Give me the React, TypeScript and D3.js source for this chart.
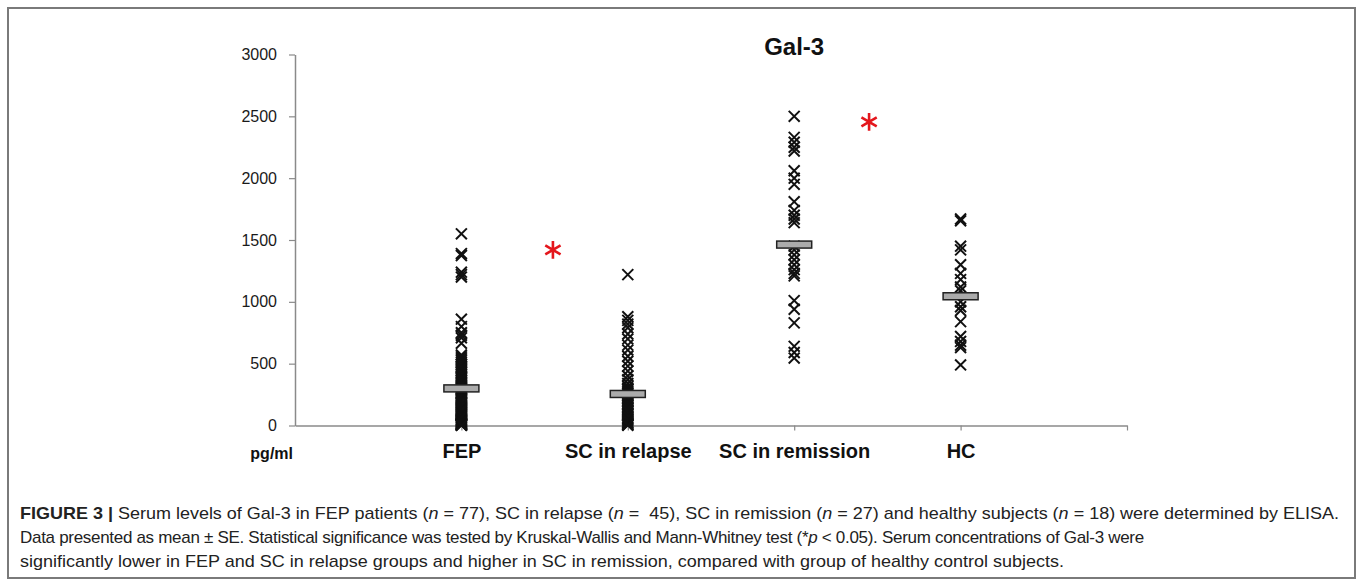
import React, { useEffect, useRef } from "react";
import * as d3 from "d3";

// groups on the x axis
const categories = ["FEP", "SC in relapse", "SC in remission", "HC"];

// individual values (pg/ml)
const fepValues = [
  1550, 1390, 1375, 1240, 1220, 1200, 860, 800, 750, 730, 710, 665,
  570, 555, 540, 525, 510, 495, 480, 470, 455, 440,
  430, 415, 400, 390, 380, 365, 350, 340, 330, 320,
  310, 300, 290, 280, 270, 262, 255, 245, 235, 225,
  218, 210, 200, 190, 182, 175, 165, 158, 150, 140,
  132, 125, 118, 110, 102, 95, 88, 80, 72, 65,
  58, 50, 45, 40, 35, 30, 25, 20, 16, 12,
  10, 8, 5, 3, 1,
];
const relapseValues = [
  1220, 880, 850, 820, 790, 740, 700, 650, 610, 560, 520, 480, 440, 400, 370, 340,
  315, 300, 290, 278, 265, 250, 240, 228, 215, 200,
  190, 178, 165, 150, 140, 128, 115, 100, 90, 78,
  65, 55, 45, 35, 25, 18, 10, 5, 2,
];
const remissionValues = [
  2500, 2330, 2290, 2250, 2220, 2060, 2000, 1950, 1810, 1740, 1700, 1670, 1640,
  1450, 1420, 1380, 1340, 1300, 1260, 1230, 1210, 1010, 940, 830, 640, 590, 545,
];
const hcValues = [
  1670, 1655, 1450, 1420, 1300, 1230, 1180, 1120, 1090, 1000, 960, 930, 840,
  720, 680, 650, 630, 490,
];
const groupMeans = [300, 255, 1463, 1045];

const yTicks = [0, 500, 1000, 1500, 2000, 2500, 3000];

// significance stars: x in category units, y in pg/ml
const starPos = [1.55, 3.45];
const starValues = [1420, 2455];

const captionLines = [
  [
    { t: "FIGURE 3 | ", b: true },
    { t: "Serum levels of Gal-3 in FEP patients (" },
    { t: "n", i: true },
    { t: " = 77), SC in relapse (" },
    { t: "n", i: true },
    { t: " =  45), SC in remission (" },
    { t: "n", i: true },
    { t: " = 27) and healthy subjects (" },
    { t: "n", i: true },
    { t: " = 18) were determined by ELISA." },
  ],
  [
    { t: "Data presented as mean ± SE. Statistical significance was tested by Kruskal-Wallis and Mann-Whitney test (*" },
    { t: "p", i: true },
    { t: " < 0.05). Serum concentrations of Gal-3 were" },
  ],
  [
    { t: "significantly lower in FEP and SC in relapse groups and higher in SC in remission, compared with group of healthy control subjects." },
  ],
];
// line widths as measured on the figure; null = natural width
const captionWidths = [1319, null, 1044];
const captionSpacing = [0, -0.3, 0];

const FONT = "'Liberation Sans', Arial, Helvetica, sans-serif";

const App = () => {
  const svgRef = useRef(null);

  useEffect(() => {
    const w = 1357;
    const h = 581;
    const svg = d3.select(svgRef.current);
    svg.selectAll("*").remove();
    svg.attr("width", w).attr("height", h).style("background", "#ffffff");

    // frame around the figure
    svg
      .append("rect")
      .attr("x", 8)
      .attr("y", 8)
      .attr("width", 1347)
      .attr("height", 570)
      .attr("fill", "none")
      .attr("stroke", "#7a7a7a")
      .attr("stroke-width", 2);

    const xScale = d3.scaleLinear().domain([0, 5]).range([295, 1127]);
    const yScale = d3.scaleLinear().domain([0, 3000]).range([425.5, 54.5]);

    svg
      .append("text")
      .attr("x", xScale(3))
      .attr("y", 55)
      .attr("text-anchor", "middle")
      .style("font-family", FONT)
      .style("font-weight", "bold")
      .style("font-size", "24px")
      .style("fill", "#111")
      .text("Gal-3");

    // y axis
    const yAxis = svg
      .append("g")
      .attr("transform", `translate(${xScale(0)},0)`)
      .call(
        d3
          .axisLeft(yScale)
          .tickValues(yTicks)
          .tickSize(6)
          .tickSizeOuter(0)
          .tickPadding(12)
          .tickFormat(d3.format("d"))
      );
    yAxis.select(".domain").attr("stroke", "#8a8a8a").attr("stroke-width", 1.5);
    yAxis.selectAll(".tick line").attr("stroke", "#8a8a8a").attr("stroke-width", 1.2);
    yAxis
      .selectAll(".tick text")
      .style("font-family", FONT)
      .style("font-size", "16px")
      .attr("fill", "#1a1a1a");

    // x axis
    const xAxis = svg
      .append("g")
      .attr("transform", `translate(0,${yScale(0)})`)
      .call(
        d3
          .axisBottom(xScale)
          .tickValues([1, 2, 3, 4, 5])
          .tickSize(5)
          .tickSizeOuter(0)
          .tickPadding(13)
          .tickFormat((d) => categories[+d - 1] || "")
      );
    xAxis.select(".domain").attr("stroke", "#8a8a8a").attr("stroke-width", 1.5);
    xAxis.selectAll(".tick line").attr("stroke", "#8a8a8a").attr("stroke-width", 1.2);
    xAxis
      .selectAll(".tick text")
      .style("font-family", FONT)
      .style("font-weight", "bold")
      .style("font-size", "20px")
      .attr("fill", "#111");

    svg
      .append("text")
      .attr("x", 293)
      .attr("y", 459)
      .attr("text-anchor", "end")
      .style("font-family", FONT)
      .style("font-weight", "bold")
      .style("font-size", "16px")
      .style("fill", "#111")
      .text("pg/ml");

    // individual points
    const groups = [fepValues, relapseValues, remissionValues, hcValues];
    const cross = d3.symbol().type(d3.symbolTimes).size(80);
    groups.forEach((vals, gi) => {
      svg
        .append("g")
        .selectAll("path")
        .data(vals)
        .join("path")
        .attr("d", cross)
        .attr("transform", (d) => `translate(${xScale(gi + 1)},${yScale(d)})`)
        .attr("fill", "none")
        .attr("stroke", "#111")
        .attr("stroke-width", 2);
    });

    // mean bars
    svg
      .append("g")
      .selectAll("rect")
      .data(groupMeans)
      .join("rect")
      .attr("x", (d, i) => xScale(i + 1) - 17.5)
      .attr("y", (d) => yScale(d) - 3.5)
      .attr("width", 35)
      .attr("height", 7)
      .attr("fill", "#ababab")
      .attr("stroke", "#222")
      .attr("stroke-width", 1.5);

    // significance stars
    const star = d3.symbol().type(d3.symbolAsterisk).size(220);
    svg
      .append("g")
      .selectAll("path")
      .data(starValues)
      .join("path")
      .attr("d", star)
      .attr("transform", (d, i) => `translate(${xScale(starPos[i])},${yScale(d)})`)
      .attr("fill", "none")
      .attr("stroke", "#e4161c")
      .attr("stroke-width", 2.6);

    // caption
    captionLines.forEach((segs, li) => {
      const t = svg
        .append("text")
        .attr("x", 20)
        .attr("y", 519 + li * 24)
        .style("font-family", FONT)
        .style("font-size", "17px")
        .style("letter-spacing", `${captionSpacing[li]}px`)
        .style("white-space", "pre")
        .style("fill", "#222");
      if (captionWidths[li]) {
        t.attr("textLength", captionWidths[li]).attr("lengthAdjust", "spacingAndGlyphs");
      }
      segs.forEach((s) => {
        t.append("tspan")
          .style("font-weight", s.b ? "bold" : "normal")
          .style("font-style", s.i ? "italic" : "normal")
          .text(s.t);
      });
    });
  }, []);

  return (
    <svg
      ref={svgRef}
      style={{ position: "absolute", left: 0, top: 0, display: "block" }}
    ></svg>
  );
};

export default App;
